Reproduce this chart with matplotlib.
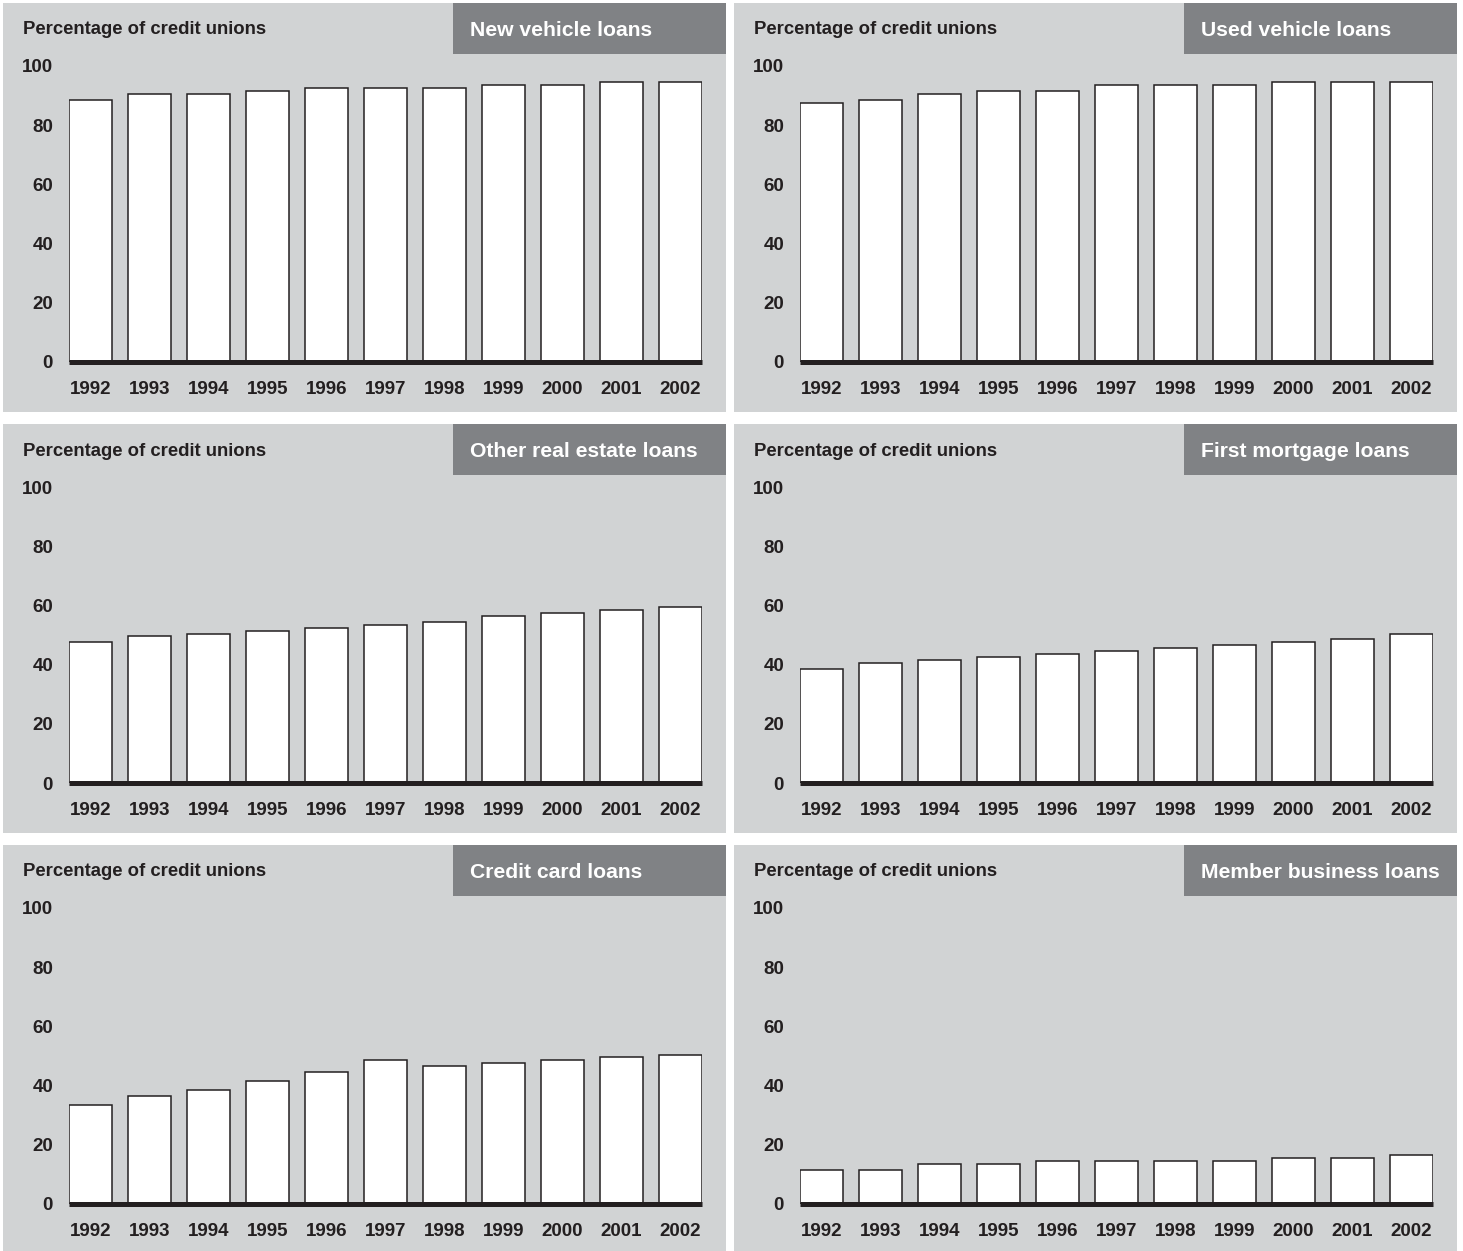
import matplotlib
matplotlib.use("Agg")
import matplotlib.pyplot as plt
from matplotlib.patches import Rectangle

years = ["1992", "1993", "1994", "1995", "1996", "1997", "1998", "1999", "2000", "2001", "2002"]
new_vehicle = [88.5, 90.5, 90.5, 91.5, 92.5, 92.5, 92.5, 93.5, 93.5, 94.5, 94.5]
used_vehicle = [87.5, 88.5, 90.5, 91.5, 91.5, 93.5, 93.5, 93.5, 94.5, 94.5, 94.5]
other_real_estate = [47.5, 49.5, 50.5, 51.5, 52.5, 53.5, 54.5, 56.5, 57.5, 58.5, 59.5]
first_mortgage = [38.5, 40.5, 41.5, 42.5, 43.5, 44.5, 45.5, 46.5, 47.5, 48.5, 50.5]
credit_card = [33.5, 36.5, 38.5, 41.5, 44.5, 48.5, 46.5, 47.5, 48.5, 49.5, 50.5]
member_business = [11.5, 11.5, 13.5, 13.5, 14.5, 14.5, 14.5, 14.5, 15.5, 15.5, 16.5]

titles = ["New vehicle loans", "Used vehicle loans", "Other real estate loans",
          "First mortgage loans", "Credit card loans", "Member business loans"]
series = [new_vehicle, used_vehicle, other_real_estate, first_mortgage, credit_card, member_business]
y_ticks = [0, 20, 40, 60, 80, 100]
y_label = "Percentage of credit unions"

W, H = 1463, 1251
PANEL_BG = "#d1d3d4"
TITLE_BG = "#808285"
DARK = "#231f20"
FONT = "Liberation Sans"

fig = plt.figure(figsize=(W / 100, H / 100), dpi=100)
fig.patch.set_facecolor("white")


def fx(px):
    return px / W


def fy(py):
    return 1 - py / H


row_off = [0, 421, 842]
col_off = [0, 731]

for i, (title, vals) in enumerate(zip(titles, series)):
    r, c = divmod(i, 2)
    ox, oy = col_off[c], row_off[r]

    # panel background
    fig.patches.append(Rectangle((fx(3 + ox), fy(412 + oy)), fx(723), 409 / H,
                                 transform=fig.transFigure, facecolor=PANEL_BG,
                                 edgecolor="none", zorder=-2))
    # title box
    fig.patches.append(Rectangle((fx(453 + ox), fy(54 + oy)), fx(273), 51 / H,
                                 transform=fig.transFigure, facecolor=TITLE_BG,
                                 edgecolor="none", zorder=-1))
    fig.text(fx(470 + ox), fy(30 + oy), title, color="white", fontsize=15.2,
             fontweight="bold", family=FONT, va="center", ha="left", zorder=2)
    fig.text(fx(23 + ox), fy(30 + oy), y_label, color=DARK, fontsize=13.3,
             fontweight="bold", family=FONT, va="center", ha="left", zorder=2)

    left, right = 69 + ox, 702 + ox
    top, bottom = 66 + oy, 362 + oy
    ax = fig.add_axes([fx(left), fy(bottom), (right - left) / W, (bottom - top) / H])
    ax.set_zorder(3)
    ax.set_facecolor("none")
    x = list(range(len(years)))
    ax.bar(x, vals, width=0.73, color="white", edgecolor=DARK, linewidth=1.1, zorder=2)
    ax.set_xlim(-0.365, len(years) - 1 + 0.365)
    ax.set_ylim(0, 100)
    ax.set_yticks(y_ticks)
    ax.set_yticklabels([str(t) for t in y_ticks])
    ax.set_xticks(x)
    ax.set_xticklabels(years)
    for sp in ["top", "right", "left"]:
        ax.spines[sp].set_visible(False)
    ax.spines["bottom"].set_linewidth(3.6)
    ax.spines["bottom"].set_color(DARK)
    ax.spines["bottom"].set_zorder(3)
    ax.spines["bottom"].set_capstyle("butt")
    ax.tick_params(axis="both", length=0, colors=DARK)
    ax.tick_params(axis="x", pad=14)
    ax.tick_params(axis="y", pad=11.5)
    for lab in ax.get_xticklabels() + ax.get_yticklabels():
        lab.set_fontsize(13.5)
        lab.set_fontweight("bold")
        lab.set_family(FONT)
        lab.set_color(DARK)
    for lab in ax.get_yticklabels():
        lab.set_va("center_baseline")

fig.savefig("out.png", dpi=100, facecolor="white")
